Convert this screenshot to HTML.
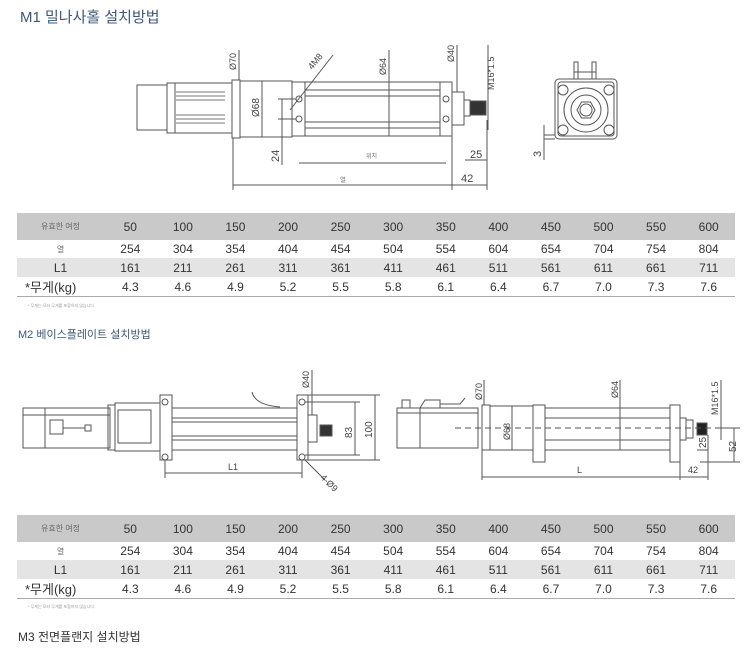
<!DOCTYPE html>
<html><head><meta charset="utf-8"><style>
body{margin:0;width:750px;height:662px;background:#fff;position:relative;overflow:hidden;font-family:"Liberation Sans","Noto Sans CJK KR",sans-serif;}
.t{position:absolute;color:#3d5878;}
table{position:absolute;left:17px;width:718px;border-collapse:collapse;table-layout:fixed;font-size:12px;color:#333;}
td{text-align:center;padding:0;}
td:first-child{width:87px;}
tr.h td{background:#c9c9c9;height:27px;}
tr.a td{height:18px;background:#fff;}
tr.b td{height:19px;background:#e4e4e4;}
tr.w td{height:19px;background:#fff;border-bottom:1px solid #aaa;}
.sm{font-size:8px;color:#666;}
.note{position:absolute;left:28px;font-size:4px;color:#999;}
svg{position:absolute;left:0;top:0;}
</style></head><body>
<div class="t" style="left:20px;top:6px;font-size:15px;">M1 밀나사홀 설치방법</div>
<div class="t" style="left:18px;top:326px;font-size:11px;">M2 베이스플레이트 설치방법</div>
<div class="t" style="left:18px;top:628px;font-size:12px;color:#333;">M3 전면플랜지 설치방법</div>

<table style="top:213px;">
<tr class="h"><td class="sm">유효한 여정</td><td>50</td><td>100</td><td>150</td><td>200</td><td>250</td><td>300</td><td>350</td><td>400</td><td>450</td><td>500</td><td>550</td><td>600</td></tr>
<tr class="a"><td class="sm">열</td><td>254</td><td>304</td><td>354</td><td>404</td><td>454</td><td>504</td><td>554</td><td>604</td><td>654</td><td>704</td><td>754</td><td>804</td></tr>
<tr class="b"><td>L1</td><td>161</td><td>211</td><td>261</td><td>311</td><td>361</td><td>411</td><td>461</td><td>511</td><td>561</td><td>611</td><td>661</td><td>711</td></tr>
<tr class="w"><td style="font-size:13px;text-align:left;padding-left:8px">*무게(kg)</td><td>4.3</td><td>4.6</td><td>4.9</td><td>5.2</td><td>5.5</td><td>5.8</td><td>6.1</td><td>6.4</td><td>6.7</td><td>7.0</td><td>7.3</td><td>7.6</td></tr>
</table>
<div class="note" style="top:303px;">* 무게는 모터 무게를 포함하지 않습니다.</div>

<table style="top:515px;">
<tr class="h"><td class="sm">유효한 여정</td><td>50</td><td>100</td><td>150</td><td>200</td><td>250</td><td>300</td><td>350</td><td>400</td><td>450</td><td>500</td><td>550</td><td>600</td></tr>
<tr class="a"><td class="sm">열</td><td>254</td><td>304</td><td>354</td><td>404</td><td>454</td><td>504</td><td>554</td><td>604</td><td>654</td><td>704</td><td>754</td><td>804</td></tr>
<tr class="b"><td>L1</td><td>161</td><td>211</td><td>261</td><td>311</td><td>361</td><td>411</td><td>461</td><td>511</td><td>561</td><td>611</td><td>661</td><td>711</td></tr>
<tr class="w"><td style="font-size:13px;text-align:left;padding-left:8px">*무게(kg)</td><td>4.3</td><td>4.6</td><td>4.9</td><td>5.2</td><td>5.5</td><td>5.8</td><td>6.1</td><td>6.4</td><td>6.7</td><td>7.0</td><td>7.3</td><td>7.6</td></tr>
</table>
<div class="note" style="top:604px;">* 무게는 모터 무게를 포함하지 않습니다.</div>

<svg width="750" height="662" fill="none" stroke="#555" stroke-width="1" font-family="Liberation Sans, sans-serif" font-size="9">
<!-- Diagram 1 -->
<rect x="137" y="85" width="30" height="45"/>
<rect x="167" y="83" width="65" height="50"/>
<line x1="175" y1="83" x2="175" y2="133"/>
<g stroke="#777"><line x1="176" y1="92" x2="225" y2="92"/><line x1="176" y1="96" x2="225" y2="96"/><line x1="176" y1="100" x2="225" y2="100"/><line x1="176" y1="115" x2="225" y2="115"/><line x1="176" y1="119" x2="225" y2="119"/><line x1="176" y1="123" x2="225" y2="123"/></g>
<rect x="232" y="80" width="8" height="58"/>
<rect x="240" y="81" width="52" height="56"/>
<rect x="292" y="82" width="160" height="54"/>
<line x1="305" y1="82" x2="305" y2="136"/>
<line x1="440" y1="82" x2="440" y2="136"/>
<line x1="305" y1="90" x2="440" y2="90"/><line x1="305" y1="96" x2="440" y2="96"/><line x1="305" y1="122" x2="440" y2="122"/><line x1="305" y1="128" x2="440" y2="128"/>
<circle cx="299" cy="99" r="3"/><circle cx="299" cy="119" r="3"/><circle cx="446" cy="99" r="3"/><circle cx="446" cy="119" r="3"/>
<rect x="452" y="92" width="12" height="33"/>
<rect x="464" y="100" width="6" height="16"/>
<rect x="470" y="101" width="16" height="14" fill="#333"/>
<line x1="239" y1="50" x2="239" y2="80"/>
<text x="236" y="70" fill="#444" stroke="none" transform="rotate(-90 236 70)">Ø70</text>
<line x1="262" y1="81" x2="262" y2="137"/>
<text x="259" y="117" fill="#444" stroke="none" transform="rotate(-90 259 117)" font-size="10">Ø68</text>
<line x1="389" y1="50" x2="389" y2="136"/>
<text x="386" y="75" fill="#444" stroke="none" transform="rotate(-90 386 75)">Ø64</text>
<line x1="457" y1="45" x2="457" y2="92"/>
<text x="454" y="62" fill="#444" stroke="none" transform="rotate(-90 454 62)">Ø40</text>
<line x1="488" y1="45" x2="488" y2="130"/>
<text x="494" y="90" fill="#444" stroke="none" transform="rotate(-90 494 90)">M16*1.5</text>
<line x1="290" y1="110" x2="333" y2="55"/>
<text x="312" y="70" fill="#444" stroke="none" transform="rotate(-50 312 70)">4M8</text>
<line x1="282" y1="99" x2="282" y2="165"/><line x1="278" y1="99" x2="296" y2="99"/><line x1="278" y1="119" x2="296" y2="119"/>
<text x="279" y="162" fill="#444" stroke="none" transform="rotate(-90 279 162)" font-size="11">24</text>
<line x1="299" y1="163" x2="446" y2="163"/>
<text x="366" y="158" fill="#666" stroke="none" font-size="6">위치</text>
<line x1="233" y1="138" x2="233" y2="190"/><line x1="452" y1="136" x2="452" y2="190"/>
<line x1="233" y1="185" x2="487" y2="185"/><line x1="487" y1="120" x2="487" y2="190"/>
<text x="340" y="182" fill="#666" stroke="none" font-size="6">열</text>
<text x="461" y="182" fill="#444" stroke="none" font-size="11">42</text>
<line x1="465" y1="160" x2="487" y2="160"/>
<text x="470" y="158" fill="#444" stroke="none" font-size="11">25</text>
<!-- end view -->
<rect x="555" y="79" width="62" height="60" rx="4"/>
<rect x="558" y="82" width="56" height="54" rx="3"/>
<rect x="574" y="62" width="4" height="17"/><rect x="592" y="62" width="4" height="17"/>
<line x1="574" y1="72" x2="596" y2="72"/>
<circle cx="586" cy="110" r="22"/><circle cx="586" cy="110" r="15"/><polygon points="577,110 581.5,102 590.5,102 595,110 590.5,118 581.5,118"/><circle cx="586" cy="110" r="6"/>
<circle cx="563" cy="90" r="5"/><circle cx="609" cy="90" r="5"/><circle cx="563" cy="130" r="5"/><circle cx="609" cy="130" r="5"/>
<line x1="544" y1="135" x2="555" y2="135"/><line x1="544" y1="139" x2="555" y2="139"/><line x1="544" y1="125" x2="544" y2="160"/>
<text x="541" y="157" fill="#444" stroke="none" transform="rotate(-90 541 157)" font-size="11">3</text>
<!-- Diagram 2 -->
<rect x="23" y="408" width="87" height="40"/>
<line x1="45" y1="408" x2="45" y2="448"/><line x1="23" y1="415" x2="110" y2="415"/>
<rect x="50" y="420" width="13" height="14"/><rect x="85" y="425" width="6" height="6"/><line x1="63" y1="428" x2="85" y2="428"/>
<rect x="108" y="405" width="7" height="45"/>
<rect x="115" y="403" width="45" height="48"/>
<rect x="118" y="410" width="33" height="33"/>
<rect x="160" y="395" width="12" height="65"/>
<circle cx="165" cy="402" r="3"/><circle cx="165" cy="457" r="3"/>
<rect x="172" y="408" width="125" height="42"/>
<line x1="172" y1="418" x2="297" y2="418"/><line x1="172" y1="422" x2="297" y2="422"/><line x1="172" y1="436" x2="297" y2="436"/><line x1="172" y1="440" x2="297" y2="440"/>
<path d="M252 392 Q255 405 280 407"/>
<rect x="297" y="395" width="11" height="65"/>
<circle cx="302" cy="402" r="3"/><circle cx="302" cy="457" r="3"/>
<rect x="308" y="415" width="9" height="27"/>
<rect x="320" y="425" width="12" height="11" fill="#333"/>
<line x1="312" y1="370" x2="312" y2="415"/>
<text x="309" y="388" fill="#444" stroke="none" transform="rotate(-90 309 388)">Ø40</text>
<line x1="305" y1="402" x2="360" y2="402"/><line x1="305" y1="455" x2="360" y2="455"/><line x1="355" y1="402" x2="355" y2="455"/>
<text x="352" y="438" fill="#444" stroke="none" transform="rotate(-90 352 438)" font-size="10">83</text>
<line x1="305" y1="395" x2="380" y2="395"/><line x1="305" y1="460" x2="380" y2="460"/><line x1="375" y1="395" x2="375" y2="460"/>
<text x="372" y="438" fill="#444" stroke="none" transform="rotate(-90 372 438)" font-size="10">100</text>
<line x1="165" y1="460" x2="165" y2="478"/><line x1="302" y1="460" x2="302" y2="478"/><line x1="165" y1="473" x2="302" y2="473"/>
<text x="228" y="470" fill="#444" stroke="none">L1</text>
<line x1="305" y1="460" x2="325" y2="480"/>
<text x="320" y="478" fill="#444" stroke="none" transform="rotate(45 320 478)">4-Ø9</text>
<!-- Diagram 3 -->
<rect x="397" y="408" width="81" height="40"/>
<line x1="397" y1="413" x2="478" y2="413"/><line x1="420" y1="408" x2="420" y2="448"/>
<path d="M402 408 V400 H410 V408 M420 408 L425 400 H440 V408 M440 404 H460 L465 398"/>
<rect x="482" y="405" width="8" height="45"/>
<rect x="490" y="406" width="43" height="44"/>
<rect x="533" y="405" width="12" height="57"/>
<rect x="545" y="408" width="125" height="42"/>
<line x1="545" y1="418" x2="670" y2="418"/><line x1="545" y1="440" x2="670" y2="440"/>
<rect x="670" y="405" width="10" height="57"/>
<rect x="680" y="418" width="6" height="22"/><rect x="686" y="420" width="7" height="18"/>
<rect x="697" y="423" width="10" height="12" fill="#222"/>
<line x1="455" y1="428" x2="735" y2="428" stroke-dasharray="6,4"/>
<line x1="484" y1="380" x2="484" y2="405"/>
<text x="482" y="400" fill="#444" stroke="none" transform="rotate(-90 482 400)">Ø70</text>
<line x1="512" y1="406" x2="512" y2="450"/>
<text x="510" y="440" fill="#444" stroke="none" transform="rotate(-90 510 440)">Ø68</text>
<line x1="620" y1="380" x2="620" y2="450"/>
<text x="618" y="398" fill="#444" stroke="none" transform="rotate(-90 618 398)">Ø64</text>
<line x1="721" y1="380" x2="721" y2="440"/>
<text x="718" y="415" fill="#444" stroke="none" transform="rotate(-90 718 415)">M16*1.5</text>
<line x1="697" y1="450" x2="708" y2="450"/>
<text x="706" y="448" fill="#444" stroke="none" transform="rotate(-90 706 448)" font-size="10">25</text>
<line x1="715" y1="428" x2="740" y2="428"/><line x1="700" y1="462" x2="740" y2="462"/><line x1="734" y1="428" x2="734" y2="462"/>
<text x="736" y="452" fill="#444" stroke="none" transform="rotate(-90 736 452)" font-size="10">52</text>
<line x1="482" y1="450" x2="482" y2="480"/><line x1="680" y1="462" x2="680" y2="480"/><line x1="708" y1="435" x2="708" y2="480"/>
<line x1="482" y1="477" x2="708" y2="477"/>
<text x="577" y="473" fill="#444" stroke="none">L</text>
<text x="688" y="473" fill="#444" stroke="none">42</text>
</svg>
</body></html>
